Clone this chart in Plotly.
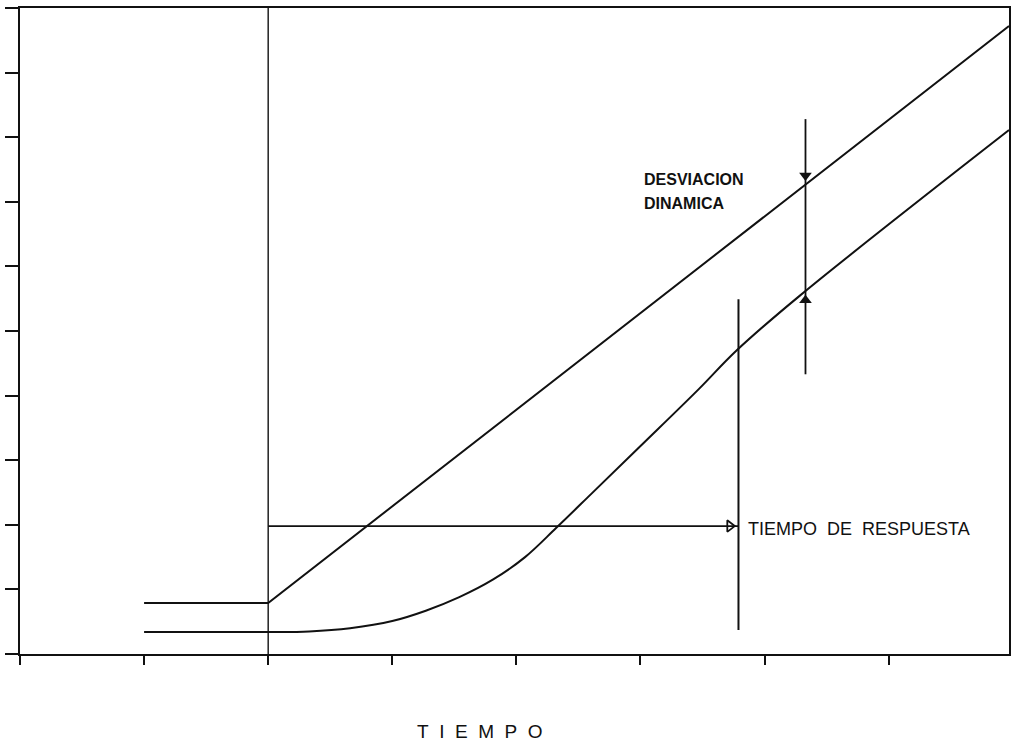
import plotly.graph_objects as go

# Escalón-rampa de entrada y respuesta del sistema (unidades de la retícula)
entrada_t = [1.0, 2.0, 7.97]
entrada_y = [0.79, 0.79, 9.72]

respuesta_t = [1.0, 2.0, 2.33, 2.66, 3.0, 3.27, 3.54, 3.81, 4.07, 4.32, 4.61, 4.99, 5.47, 5.77, 6.28, 7.97]
respuesta_y = [0.34, 0.34, 0.35, 0.40, 0.51, 0.67, 0.88, 1.15, 1.50, 1.95, 2.49, 3.20, 4.10, 4.69, 5.54, 8.11]

# Marcas de referencia
t_inicio = 2.0
nivel_flecha = 1.98
t_respuesta = 5.79
respuesta_linea_y = [0.37, 5.49]
t_desviacion = 6.33
desviacion_linea_y = [4.33, 8.28]

x_ticks = [0, 1, 2, 3, 4, 5, 6, 7]
y_ticks = [0, 1, 2, 3, 4, 5, 6, 7, 8, 9, 10]

negro = "#111111"
fuente = "Liberation Sans, Arial, sans-serif"


def interp(x, xs, ys):
    for i in range(len(xs) - 1):
        if xs[i] <= x <= xs[i + 1]:
            f = (x - xs[i]) / (xs[i + 1] - xs[i])
            return ys[i] + f * (ys[i + 1] - ys[i])
    return ys[-1]


fig = go.Figure()

# Línea vertical del instante de inicio
fig.add_trace(go.Scatter(x=[t_inicio, t_inicio], y=[0, 10], mode="lines",
                         line=dict(color=negro, width=1.4), hoverinfo="skip"))

# Entrada (rampa)
fig.add_trace(go.Scatter(x=entrada_t, y=entrada_y, mode="lines",
                         line=dict(color=negro, width=2), hoverinfo="skip"))

# Respuesta
fig.add_trace(go.Scatter(x=respuesta_t, y=respuesta_y, mode="lines",
                         line=dict(color=negro, width=2, shape="spline", smoothing=1.0),
                         hoverinfo="skip"))

# Flecha horizontal del tiempo de respuesta
fig.add_trace(go.Scatter(x=[t_inicio, t_respuesta], y=[nivel_flecha, nivel_flecha], mode="lines",
                         line=dict(color=negro, width=1.6), hoverinfo="skip"))
fig.add_trace(go.Scatter(x=[t_respuesta - 0.07], y=[nivel_flecha], mode="markers",
                         marker=dict(symbol="triangle-right-open", size=10, color=negro,
                                     line=dict(width=1.8, color=negro)),
                         hoverinfo="skip"))

# Vertical del tiempo de respuesta
fig.add_trace(go.Scatter(x=[t_respuesta, t_respuesta], y=respuesta_linea_y, mode="lines",
                         line=dict(color=negro, width=2), hoverinfo="skip"))

# Vertical de la desviación dinámica con sus puntas de flecha
fig.add_trace(go.Scatter(x=[t_desviacion, t_desviacion], y=desviacion_linea_y, mode="lines",
                         line=dict(color=negro, width=1.8), hoverinfo="skip"))
y_sup = interp(t_desviacion, entrada_t, entrada_y)
y_inf = interp(t_desviacion, respuesta_t, respuesta_y)
fig.add_trace(go.Scatter(x=[t_desviacion], y=[y_sup + 0.14], mode="markers",
                         marker=dict(symbol="triangle-down", size=11, color=negro),
                         hoverinfo="skip"))
fig.add_trace(go.Scatter(x=[t_desviacion], y=[y_inf - 0.14], mode="markers",
                         marker=dict(symbol="triangle-up", size=11, color=negro),
                         hoverinfo="skip"))

anotaciones = [
    dict(x=5.01, y=7.35, xref="x", yref="y", text="<b>DESVIACION</b>",
         xanchor="left", yanchor="middle", font=dict(size=16, color=negro, family=fuente)),
    dict(x=5.01, y=6.98, xref="x", yref="y", text="<b>DINAMICA</b>",
         xanchor="left", yanchor="middle", font=dict(size=16, color=negro, family=fuente)),
    dict(x=5.85, y=1.93, xref="x", yref="y", text="TIEMPO&nbsp;&nbsp;DE&nbsp;&nbsp;RESPUESTA",
         xanchor="left", yanchor="middle", font=dict(size=18, color=negro, family=fuente)),
    dict(x=3.71, y=-0.12, xref="x", yref="paper",
         text="T&nbsp;&nbsp;I&nbsp;&nbsp;E&nbsp;&nbsp;M&nbsp;&nbsp;P&nbsp;&nbsp;O",
         xanchor="center", yanchor="middle", font=dict(size=19, color=negro, family=fuente)),
]
for a in anotaciones:
    a["showarrow"] = False

fig.update_layout(
    width=1012, height=742,
    margin=dict(l=20, r=1, t=8, b=88),
    paper_bgcolor="white", plot_bgcolor="white",
    showlegend=False,
    annotations=anotaciones,
    xaxis=dict(range=[0, 7.97], tickvals=x_ticks, showticklabels=False, ticks="outside",
               ticklen=9, tickwidth=2, tickcolor=negro, showgrid=False, zeroline=False,
               showline=True, linecolor=negro, linewidth=2, mirror=True),
    yaxis=dict(range=[0, 10], tickvals=y_ticks, showticklabels=False, ticks="outside",
               ticklen=13, tickwidth=2, tickcolor=negro, showgrid=False, zeroline=False,
               showline=True, linecolor=negro, linewidth=2, mirror=True),
)

fig.write_html("out.html")
